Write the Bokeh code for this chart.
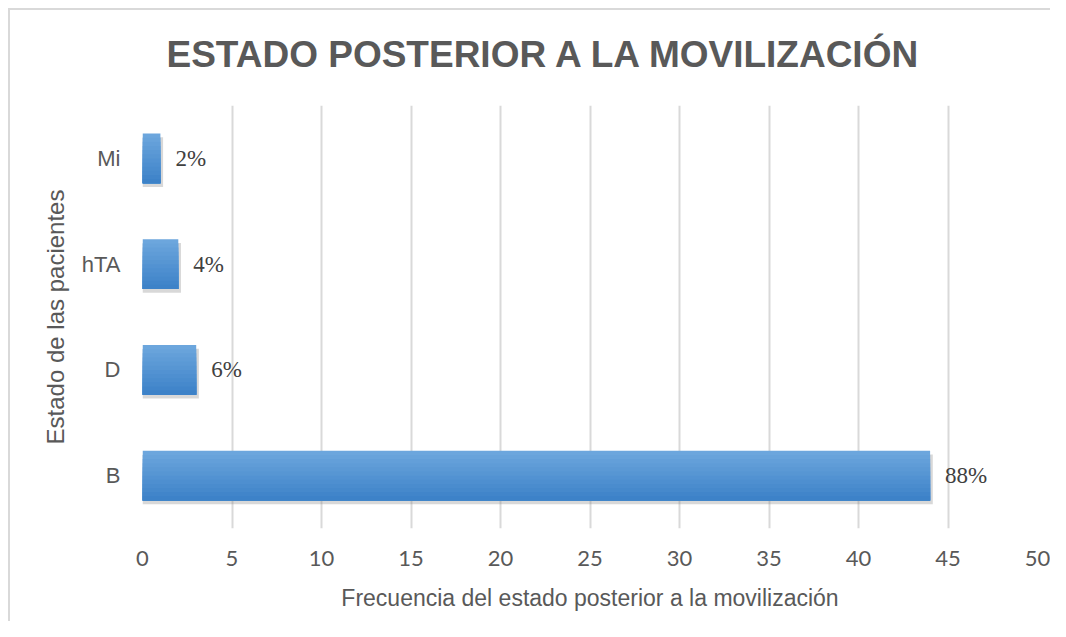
from bokeh.plotting import figure
from bokeh.models import FactorRange, Range1d, ColumnDataSource, FixedTicker, LabelSet
from bokeh.transform import dodge
from bokeh.embed import file_html
from bokeh.resources import INLINE

# ---- data ----
categories = ["B", "D", "hTA", "Mi"]          # bottom -> top
frequencies = [44, 3, 2, 1]
percent_labels = ["88%", "6%", "4%", "2%"]
x_ticks = [0, 5, 10, 15, 20, 25, 30, 35, 40, 45, 50]

title_text = "ESTADO POSTERIOR A LA MOVILIZACIÓN"
x_label = "Frecuencia del estado posterior a la movilización"
y_label = "Estado de las pacientes"

W, H = 1050, 621
p = figure(width=W, height=H, output_backend="svg", toolbar_location=None,
           y_range=FactorRange(factors=categories, range_padding=0),
           x_range=Range1d(0, 50),
           min_border_left=142, min_border_right=13,
           min_border_top=105, min_border_bottom=93)

# light chart-area border (top and left edges), drawn behind a transparent canvas border
p.styles = {"background": "linear-gradient(#d9d9d9,#d9d9d9) 8px 8px / 2px 100% no-repeat, "
                          "linear-gradient(#d9d9d9,#d9d9d9) 8px 8px / 100% 2px no-repeat, white"}
p.border_fill_alpha = 0
p.outline_line_color = None
p.background_fill_color = "white"

p.title.text = title_text
p.title.text_font = "Liberation Sans"
p.title.text_font_size = "37px"
p.title.text_font_style = "bold"
p.title.text_color = "#595959"
p.title.align = "left"
p.title.offset = 24
p.title.standoff = 62

src = ColumnDataSource(dict(cat=categories, val=frequencies, lab=percent_labels))

h = 0.47
# soft shadow
p.hbar(y=dodge("cat", -0.035, range=p.y_range), left=0, right=dodge("val", 0.15), height=h,
       source=src, fill_color="#7f7f7f", fill_alpha=0.3, line_color=None)
# gradient bar (light top -> darker bottom), overlapping bands to avoid seams
bands = 12
top_col = (0x6c, 0xa6, 0xdd)
bot_col = (0x3d, 0x82, 0xc8)
for i in range(bands):
    t = i / (bands - 1)
    col = tuple(int(round(top_col[k] + (bot_col[k] - top_col[k]) * t)) for k in range(3))
    band_top = h / 2 - i * h / bands
    band_h = band_top + h / 2
    center = band_top - band_h / 2
    p.hbar(y=dodge("cat", center, range=p.y_range), left=0, right="val", height=band_h,
           source=src, fill_color="#%02x%02x%02x" % col, line_color=None)

labels = LabelSet(x="val", y="cat", text="lab", source=src, x_offset=15, y_offset=0,
                  text_baseline="middle", text_font="Lato", text_font_size="23px",
                  text_color="#404040")
p.add_layout(labels)

# grid
p.xgrid.ticker = FixedTicker(ticks=x_ticks)
p.xgrid.grid_line_color = "#d9d9d9"
p.xgrid.grid_line_width = 2
p.ygrid.grid_line_color = None

# x axis
p.xaxis.ticker = FixedTicker(ticks=x_ticks)
p.xaxis.axis_line_color = None
p.xaxis.major_tick_line_color = None
p.xaxis.minor_tick_line_color = None
p.xaxis.major_label_text_font = "Lato"
p.xaxis.major_label_text_font_size = "22px"
p.xaxis.major_label_text_color = "#595959"
p.xaxis.major_label_standoff = 16
p.xaxis.axis_label = x_label
p.xaxis.axis_label_text_font = "Liberation Sans"
p.xaxis.axis_label_text_font_size = "23px"
p.xaxis.axis_label_text_font_style = "normal"
p.xaxis.axis_label_text_color = "#595959"
p.xaxis.axis_label_standoff = 16

# y axis
p.yaxis.axis_line_color = None
p.yaxis.major_tick_line_color = None
p.yaxis.minor_tick_line_color = None
p.yaxis.major_label_text_font = "Liberation Sans"
p.yaxis.major_label_text_font_size = "22px"
p.yaxis.major_label_text_color = "#595959"
p.yaxis.major_label_standoff = 16
p.yaxis.axis_label = y_label
p.yaxis.axis_label_text_font = "Liberation Sans"
p.yaxis.axis_label_text_font_size = "24px"
p.yaxis.axis_label_text_font_style = "normal"
p.yaxis.axis_label_text_color = "#595959"
p.yaxis.axis_label_standoff = 10

open("out.html", "w").write(file_html(p, INLINE))
